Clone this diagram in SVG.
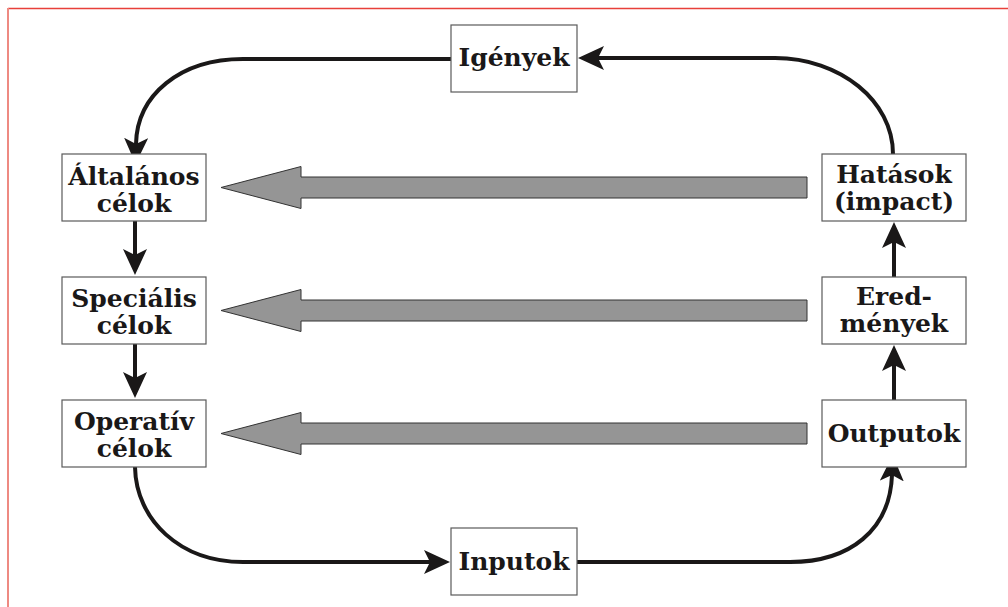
<svg xmlns="http://www.w3.org/2000/svg" width="1008" height="607" viewBox="0 0 1008 607">
<style>
.box{fill:#fff;stroke:#5a5a5a;stroke-width:1.2}
.t{font-family:"DejaVu Serif","Liberation Serif",serif;font-weight:bold;font-size:25px;fill:#1a1818;text-anchor:middle}
.c{fill:none;stroke:#1a1818;stroke-width:4}
.g{fill:#959595;stroke:#333;stroke-width:1}
</style>
<defs>
<marker id="ah" viewBox="0 -12 26 24" markerWidth="26" markerHeight="24" refX="6" refY="0" orient="auto" markerUnits="userSpaceOnUse">
<path d="M0,-12 L26,0 L0,12 L6,0 Z" fill="#1a1818"/>
</marker>
</defs>
<rect width="1008" height="607" fill="#fff"/>
<g id="frame">
<line x1="8" y1="8.5" x2="1008" y2="8.5" stroke="#e8403a" stroke-width="1.4"/>
<line x1="8" y1="8" x2="8" y2="607" stroke="#ee8a82" stroke-width="2"/>
</g>
<g id="connectors">
<path class="c" d="M451,59 L243,59 C180,59 137,95 136,144" marker-end="url(#ah)"/>
<path class="c" d="M135,221 L135,255" marker-end="url(#ah)"/>
<path class="c" d="M135,344 L135,378" marker-end="url(#ah)"/>
<path class="c" d="M135,467 C136,520 180,562 243,562 L430,562" marker-end="url(#ah)"/>
<path class="c" d="M577,562 L790,562 C850,562 890,530 892,475" marker-end="url(#ah)"/>
<path class="c" d="M894,400 L894,365" marker-end="url(#ah)"/>
<path class="c" d="M894,277 L894,242" marker-end="url(#ah)"/>
<path class="c" d="M893,154 C893,101 840,58 775,58 L598,58" marker-end="url(#ah)"/>
<path class="g" d="M221,187.5 L301,166.5 L301,177 L807,177 L807,198 L301,198 L301,208.5 Z"/>
<path class="g" d="M221,310.5 L301,289.5 L301,300 L807,300 L807,321 L301,321 L301,331.5 Z"/>
<path class="g" d="M221,433.5 L301,412.5 L301,423 L807,423 L807,444 L301,444 L301,454.5 Z"/>
</g>
<g id="igenyek"><rect class="box" x="451" y="25" width="126" height="67"/><text class="t" x="514" y="66">Igények</text></g>
<g id="altalanos"><rect class="box" x="62" y="154" width="144" height="67"/><text class="t" x="134" y="185">Általános</text><text class="t" x="134" y="212">célok</text></g>
<g id="specialis"><rect class="box" x="62" y="277" width="144" height="67"/><text class="t" x="134" y="307">Speciális</text><text class="t" x="134" y="334">célok</text></g>
<g id="operativ"><rect class="box" x="62" y="400" width="144" height="67"/><text class="t" x="134" y="430">Operatív</text><text class="t" x="134" y="457">célok</text></g>
<g id="inputok"><rect class="box" x="451" y="528" width="126" height="67"/><text class="t" x="514" y="570">Inputok</text></g>
<g id="hatasok"><rect class="box" x="822" y="154" width="144" height="67"/><text class="t" x="894" y="183">Hatások</text><text class="t" x="894" y="210">(impact)</text></g>
<g id="eredmenyek"><rect class="box" x="822" y="277" width="144" height="67"/><text class="t" x="894" y="305">Ered-</text><text class="t" x="894" y="332">mények</text></g>
<g id="outputok"><rect class="box" x="822" y="400" width="144" height="67"/><text class="t" x="894" y="442">Outputok</text></g>
</svg>
